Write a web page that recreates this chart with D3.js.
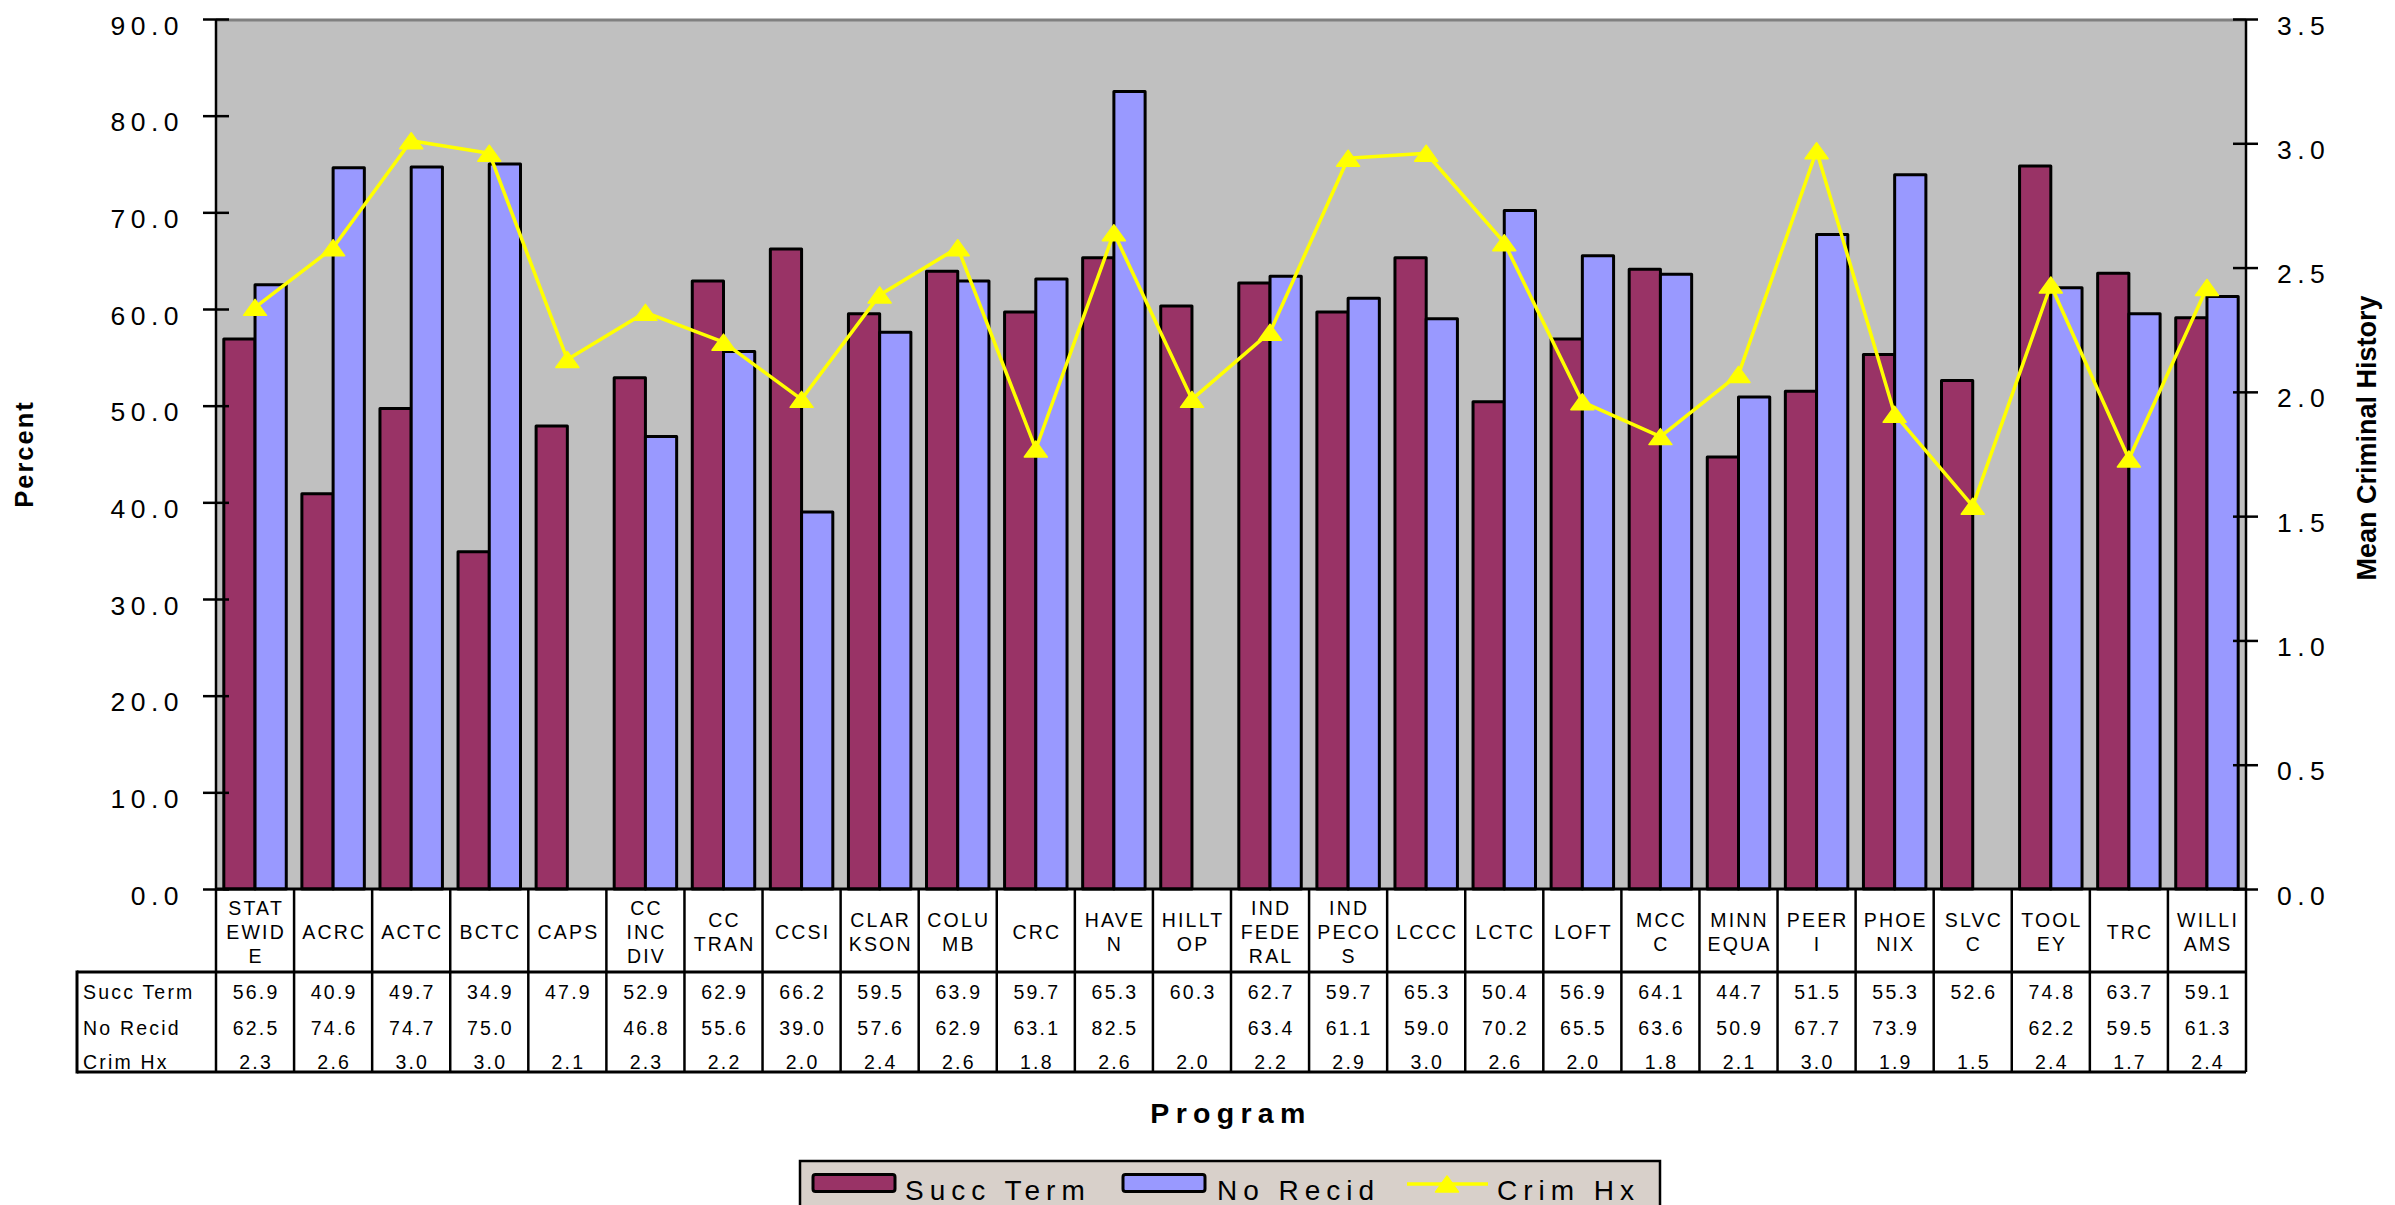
<!DOCTYPE html>
<html>
<head>
<meta charset="utf-8">
<script src="https://cdn.jsdelivr.net/npm/d3@7"></script>
<style>
  html, body { margin: 0; padding: 0; background: #ffffff; }
  svg { display: block; font-family: "Liberation Sans", Arial, sans-serif; }
</style>
</head>
<body>
<svg id="chart" width="2395" height="1205"></svg>
<script>
// ---------------- DATA ----------------
const programs = ["STATEWIDE","ACRC","ACTC","BCTC","CAPS","CC INC DIV","CC TRAN","CCSI","CLARKSON","COLUMB","CRC","HAVEN","HILLTOP","IND FEDERAL","IND PECOS","LCCC","LCTC","LOFT","MCCC","MINN EQUA","PEERI","PHOENIX","SLVCC","TOOLEY","TRC","WILLIAMS"];
const programLabels = ["STAT|EWID|E","ACRC","ACTC","BCTC","CAPS","CC|INC|DIV","CC|TRAN","CCSI","CLAR|KSON","COLU|MB","CRC","HAVE|N","HILLT|OP","IND|FEDE|RAL","IND|PECO|S","LCCC","LCTC","LOFT","MCC|C","MINN|EQUA","PEER|I","PHOE|NIX","SLVC|C","TOOL|EY","TRC","WILLI|AMS"];
const succTerm = [56.9,40.9,49.7,34.9,47.9,52.9,62.9,66.2,59.5,63.9,59.7,65.3,60.3,62.7,59.7,65.3,50.4,56.9,64.1,44.7,51.5,55.3,52.6,74.8,63.7,59.1];
const noRecid  = [62.5,74.6,74.7,75.0,null,46.8,55.6,39.0,57.6,62.9,63.1,82.5,null,63.4,61.1,59.0,70.2,65.5,63.6,50.9,67.7,73.9,null,62.2,59.5,61.3];
const crimHx   = [2.34,2.58,3.01,2.96,2.13,2.32,2.20,1.97,2.39,2.58,1.77,2.64,1.97,2.24,2.94,2.96,2.60,1.96,1.82,2.07,2.97,1.91,1.54,2.43,1.73,2.42];
const seriesNames = ["Succ Term","No Recid","Crim Hx"];
const leftTicks = [0,10,20,30,40,50,60,70,80,90];
const rightTicks = [0,0.5,1.0,1.5,2.0,2.5,3.0,3.5];

// ---------------- STYLE ----------------
const colors = { "Succ Term": "#993366", "No Recid": "#9999FF", "Crim Hx": "#FFFF00" };
const plotL = 216, plotR = 2246, plotT = 19, plotB = 889;
const FONT = '"Liberation Sans", Arial, sans-serif';

const svg = d3.select("#chart");

// scales
const x = d3.scaleBand().domain(programs).range([plotL, plotR]).paddingInner(0.2).paddingOuter(0.1);
const xCol = d3.scaleBand().domain(programs).range([plotL, plotR]).padding(0);
const xs = d3.scaleBand().domain(["Succ Term","No Recid"]).range([0, x.bandwidth()]);
const y = d3.scaleLinear().domain([0, 90]).range([plotB, plotT]);
const y2 = d3.scaleLinear().domain([0, 3.5]).range([plotB, plotT]);

// plot background
svg.append("rect").attr("x", plotL).attr("y", plotT).attr("width", plotR - plotL).attr("height", plotB - plotT)
  .attr("fill", "#C0C0C0");
svg.append("line").attr("x1", plotL).attr("x2", plotR).attr("y1", plotT + 1).attr("y2", plotT + 1)
  .attr("stroke", "#808080").attr("stroke-width", 3);

// bars
const barData = [];
programs.forEach((p, i) => {
  barData.push({ p, s: "Succ Term", v: succTerm[i] });
  if (noRecid[i] != null) barData.push({ p, s: "No Recid", v: noRecid[i] });
});
svg.append("g").selectAll("rect").data(barData).join("rect")
  .attr("x", d => x(d.p) + xs(d.s))
  .attr("y", d => y(d.v))
  .attr("width", xs.bandwidth())
  .attr("height", d => y(0) - y(d.v))
  .attr("fill", d => colors[d.s])
  .attr("stroke", "#000").attr("stroke-width", 3).attr("stroke-linejoin", "round");

// line
const cx = p => xCol(p) + xCol.bandwidth() / 2;
const lineGen = d3.line().x((d, i) => cx(programs[i])).y(d => y2(d));
svg.append("path").datum(crimHx).attr("d", lineGen)
  .attr("fill", "none").attr("stroke", colors["Crim Hx"]).attr("stroke-width", 3.5).attr("stroke-linejoin", "round");
const tri = "M0,-8L11.5,8L-11.5,8Z";
svg.append("g").selectAll("path").data(crimHx).join("path")
  .attr("d", tri)
  .attr("transform", (d, i) => `translate(${cx(programs[i])},${y2(d)})`)
  .attr("fill", colors["Crim Hx"]).attr("stroke", colors["Crim Hx"]).attr("stroke-width", 1.5).attr("stroke-linejoin", "round");

// axes
const fmt1 = d3.format(".1f");
const gL = svg.append("g").attr("transform", `translate(${plotL},0)`)
  .call(d3.axisLeft(y).tickValues(leftTicks).tickFormat(fmt1).tickSize(13));
const gR = svg.append("g").attr("transform", `translate(${plotR},0)`)
  .call(d3.axisRight(y2).tickValues(rightTicks).tickFormat(fmt1).tickSize(13));
[gL, gR].forEach((g, k) => {
  g.select(".domain").attr("stroke", "#000").attr("stroke-width", 2.5);
  g.selectAll(".tick line").attr("stroke", "#000").attr("stroke-width", 2.5)
    .attr("x1", k === 0 ? 13 : -13).attr("x2", k === 0 ? -13 : 12);
  g.selectAll(".tick text")
    .attr("font-family", FONT).attr("font-size", 26.5).attr("fill", "#000")
    .style("letter-spacing", "5.5px")
    .attr("dy", null).attr("y", 15)
    .attr("x", k === 0 ? -32 : 31);
});
gL.select(".domain").attr("d", `M0,${plotT}V${plotB}`);
gR.select(".domain").attr("d", `M0,${plotT}V${plotB}`);

// baseline
svg.append("line").attr("x1", plotL).attr("x2", plotR).attr("y1", plotB).attr("y2", plotB)
  .attr("stroke", "#000").attr("stroke-width", 3);

// ---------------- DATA TABLE ----------------
const tableL = 77, hdrB = 972, tableB = 1072;
const tg = svg.append("g");
const colEdges = programs.map(p => xCol(p)).concat([plotR]);
tg.selectAll("line.col").data(colEdges).join("line").attr("class", "col")
  .attr("x1", d => d).attr("x2", d => d).attr("y1", plotB).attr("y2", tableB)
  .attr("stroke", "#000").attr("stroke-width", 2.5);
tg.append("line").attr("x1", tableL).attr("x2", plotR).attr("y1", hdrB).attr("y2", hdrB).attr("stroke", "#000").attr("stroke-width", 3);
tg.append("line").attr("x1", tableL).attr("x2", plotR).attr("y1", tableB).attr("y2", tableB).attr("stroke", "#000").attr("stroke-width", 3);
tg.append("line").attr("x1", tableL).attr("x2", tableL).attr("y1", hdrB - 1.5).attr("y2", tableB + 1.5).attr("stroke", "#000").attr("stroke-width", 3);

const cellFont = 19.5, cellLS = 2.2;
// header labels
programs.forEach((p, i) => {
  const lines = programLabels[i].split("|");
  const base0 = 939 - (lines.length - 1) * 12;
  const t = tg.append("text").attr("text-anchor", "middle")
    .attr("font-family", FONT).attr("font-size", cellFont).style("letter-spacing", cellLS + "px").attr("fill", "#000");
  lines.forEach((ln, j) => {
    t.append("tspan").attr("x", cx(p) + cellLS / 2).attr("y", base0 + j * 24).text(ln);
  });
});
// rows
const rows = [
  { name: seriesNames[0], vals: succTerm, yb: 999 },
  { name: seriesNames[1], vals: noRecid, yb: 1035 },
  { name: seriesNames[2], vals: crimHx, yb: 1069 }
];
rows.forEach(r => {
  tg.append("text").attr("x", 83).attr("y", r.yb)
    .attr("font-family", FONT).attr("font-size", cellFont).style("letter-spacing", cellLS + "px").text(r.name);
  tg.selectAll(null).data(programs).join("text")
    .attr("x", p => cx(p) + cellLS / 2).attr("y", r.yb).attr("text-anchor", "middle")
    .attr("font-family", FONT).attr("font-size", cellFont).style("letter-spacing", cellLS + "px")
    .text((p, i) => r.vals[i] == null ? "" : fmt1(r.vals[i]));
});

// ---------------- TITLES ----------------
svg.append("text").attr("x", 1228 + 3).attr("y", 1123).attr("text-anchor", "middle")
  .attr("font-family", FONT).attr("font-weight", "bold").attr("font-size", 28.5).style("letter-spacing", "6.3px").text("Program");
svg.append("text").attr("transform", "translate(33,454) rotate(-90)").attr("text-anchor", "middle")
  .attr("font-family", FONT).attr("font-weight", "bold").attr("font-size", 25.5).style("letter-spacing", "2px").text("Percent");
svg.append("text").attr("transform", "translate(2376,438) rotate(-90)").attr("text-anchor", "middle")
  .attr("font-family", FONT).attr("font-weight", "bold").attr("font-size", 27).text("Mean Criminal History");

// ---------------- LEGEND ----------------
const lg = svg.append("g");
lg.append("rect").attr("x", 800).attr("y", 1161).attr("width", 860).attr("height", 70)
  .attr("fill", "#D8D0CA").attr("stroke", "#000").attr("stroke-width", 2.5);
const legItems = [
  { s: seriesNames[0], sx: 813, tx: 905 },
  { s: seriesNames[1], sx: 1123, tx: 1217 },
  { s: seriesNames[2], sx: 1407, tx: 1497 }
];
legItems.forEach(it => {
  if (it.s !== "Crim Hx") {
    lg.append("rect").attr("x", it.sx).attr("y", 1174.5).attr("width", 82).attr("height", 17).attr("rx", 2.5)
      .attr("fill", colors[it.s]).attr("stroke", "#000").attr("stroke-width", 3);
  } else {
    lg.append("line").attr("x1", it.sx).attr("x2", it.sx + 81).attr("y1", 1184).attr("y2", 1184)
      .attr("stroke", colors[it.s]).attr("stroke-width", 3.5);
    lg.append("path").attr("d", tri).attr("transform", `translate(${it.sx + 40},1184)`)
      .attr("fill", colors[it.s]).attr("stroke", colors[it.s]).attr("stroke-width", 1.5).attr("stroke-linejoin", "round");
  }
  lg.append("text").attr("x", it.tx).attr("y", 1200)
    .attr("font-family", FONT).attr("font-size", 28).style("letter-spacing", "6px").text(it.s);
});
</script>
</body>
</html>
